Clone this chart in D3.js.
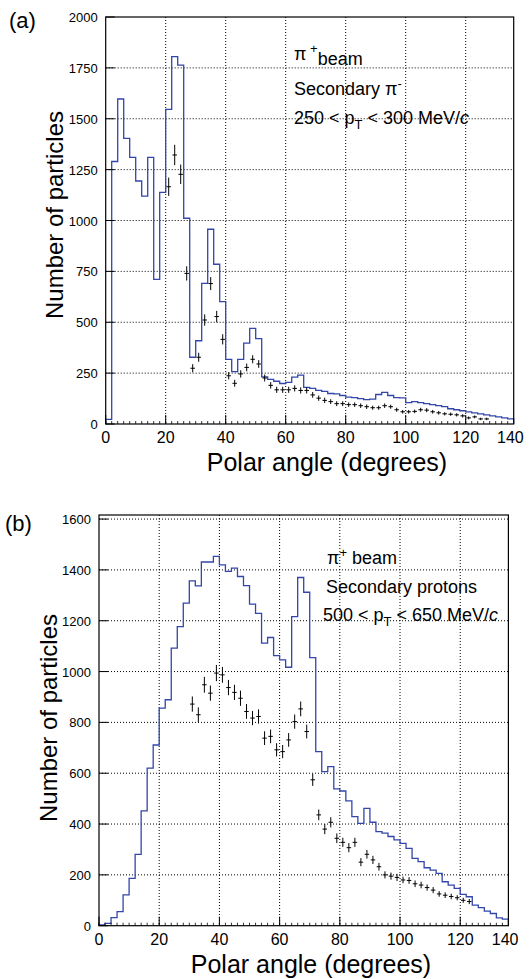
<!DOCTYPE html>
<html>
<head>
<meta charset="utf-8">
<script src="https://cdn.jsdelivr.net/npm/d3@7"></script>
<style>
  body { margin: 0; background: #fff; }
  svg text { font-family: "Liberation Sans", Arial, Helvetica, sans-serif; fill: #000; }
</style>
</head>
<body>
<svg id="chart" width="532" height="979"></svg>
<script>
// lower edges of the 2 degree bins
let binEdges = [0, 2, 4, 6, 8, 10, 12, 14, 16, 18, 20, 22, 24, 26, 28, 30, 32, 34, 36, 38,
    40, 42, 44, 46, 48, 50, 52, 54, 56, 58, 60, 62, 64, 66, 68, 70, 72, 74, 76, 78,
    80, 82, 84, 86, 88, 90, 92, 94, 96, 98, 100, 102, 104, 106, 108, 110, 112, 114, 116, 118,
    120, 122, 124, 126, 128, 130, 132, 134];
let binWidth = 2;

// (a) simulated pi- (blue histogram)
let simA = [23, 1290, 1597, 1404, 1310, 1194, 1120, 1310, 711, 1138,
    1546, 1805, 1764, 1011, 328, 409, 691, 957, 785, 601,
    318, 257, 318, 397, 470, 420, 232, 219, 210, 199,
    205, 230, 240, 180, 175, 165, 160, 150, 148, 140,
    132, 130, 125, 120, 122, 145, 155, 140, 130, 128,
    105, 110, 105, 100, 95, 90, 85, 75, 70, 65,
    60, 55, 50, 45, 40, 35, 30, 25];

// (a) measured pi- (crosses)
let angleA = [21, 23, 25, 27, 29, 31, 33, 35, 37, 39, 41, 43, 45, 47, 49, 51, 53, 55, 57, 59,
    61, 63, 65, 67, 69, 71, 73, 75, 77, 79, 81, 83, 85, 87, 89, 91, 93, 95, 97, 99,
    101, 103, 105, 107, 109, 111, 113, 115, 117, 119, 121, 123, 125, 127];
let countA = [1166, 1322, 1227, 740, 274, 328, 511, 690, 528, 416, 237, 200, 246, 278, 318, 295, 226, 190, 168, 168,
    168, 175, 165, 165, 143, 127, 116, 110, 100, 100, 95, 95, 90, 85, 80, 80, 90, 85, 70, 60,
    60, 62, 70, 68, 60, 55, 50, 48, 45, 40, 30, 35, 25, 25];
let errA = [45, 50, 48, 35, 20, 22, 28, 32, 28, 25, 18, 17, 18, 19, 20, 19, 17, 16, 15, 15,
    15, 15, 15, 15, 14, 13, 13, 12, 12, 12, 11, 11, 11, 11, 10, 10, 11, 10, 10, 9,
    9, 9, 10, 10, 9, 9, 8, 8, 8, 8, 7, 7, 6, 6];

// (b) simulated protons (blue histogram)
let simB = [3, 9, 32, 55, 121, 186, 281, 452, 620, 711,
    856, 889, 1092, 1177, 1269, 1357, 1337, 1431, 1431, 1453,
    1420, 1394, 1407, 1374, 1338, 1265, 1229, 1112, 1134, 1063,
    1046, 1017, 1216, 1370, 1312, 1055, 685, 606, 626, 538,
    530, 491, 429, 403, 462, 407, 370, 364, 351, 338,
    324, 304, 265, 252, 228, 219, 206, 173, 160, 147,
    123, 114, 81, 71, 57, 48, 31, 26];

// (b) measured protons (crosses)
let angleB = [31, 33, 35, 37, 39, 41, 43, 45, 47, 49, 51, 53, 55, 57, 59, 61, 63, 65, 67, 69,
    71, 73, 75, 77, 79, 81, 83, 85, 87, 89, 91, 93, 95, 97, 99, 101, 103, 105, 107, 109,
    111, 113, 115, 117, 119, 121, 123];
let countB = [872, 830, 948, 915, 994, 987, 937, 918, 895, 843, 817, 823, 738, 745, 692, 685, 731, 803, 853, 764,
    574, 436, 380, 407, 344, 328, 307, 328, 250, 281, 259, 232, 200, 195, 190, 180, 178, 165, 160, 150,
    140, 125, 120, 115, 110, 100, 95];
let errB = [30, 29, 31, 30, 32, 31, 30, 30, 30, 29, 28, 28, 27, 27, 26, 26, 27, 28, 29, 27,
    24, 21, 20, 20, 19, 18, 18, 18, 16, 17, 16, 15, 14, 14, 14, 13, 13, 13, 13, 12,
    12, 11, 11, 11, 10, 10, 10];

let xTicks = [0, 20, 40, 60, 80, 100, 120, 140];
let yTicksA = [0, 250, 500, 750, 1000, 1250, 1500, 1750, 2000];
let yTicksB = [0, 200, 400, 600, 800, 1000, 1200, 1400, 1600];

let svg = d3.select("#chart");
let blue = "#3346aa";

function drawPanel(p) {
    let x = d3.scaleLinear().domain([0, 136]).range([p.left, p.right]);
    let y = d3.scaleLinear().domain([0, p.yMax]).range([p.bottom, p.top]);
    let g = svg.append("g");

    // grid
    g.selectAll(".gx").data(xTicks.filter(t => t > 0 && t < 136)).enter().append("line")
        .attr("x1", d => x(d)).attr("x2", d => x(d))
        .attr("y1", p.top).attr("y2", p.bottom)
        .attr("stroke", "#000").attr("stroke-width", 1).attr("stroke-dasharray", "1,2");
    g.selectAll(".gy").data(p.yTicks.filter(t => t > 0 && y(t) > p.top + 2)).enter().append("line")
        .attr("x1", p.left).attr("x2", p.right)
        .attr("y1", d => y(d)).attr("y2", d => y(d))
        .attr("stroke", "#000").attr("stroke-width", 1).attr("stroke-dasharray", "1,2");

    // histogram
    let pts = [[0, 0]];
    p.sim.forEach((v, i) => pts.push([binEdges[i], v]));
    pts.push([binEdges[binEdges.length - 1] + binWidth, p.sim[p.sim.length - 1]]);
    pts.push([binEdges[binEdges.length - 1] + binWidth, 0]);
    let line = d3.line().x(d => x(d[0])).y(d => y(d[1])).curve(d3.curveStepAfter);
    g.append("path").datum(pts).attr("d", line)
        .attr("fill", "none").attr("stroke", blue).attr("stroke-width", 1.3);

    // crosses
    let cr = g.selectAll(".cr").data(p.angle).enter().append("g");
    cr.append("line")
        .attr("x1", d => x(d - 0.75)).attr("x2", d => x(d + 0.75))
        .attr("y1", (d, i) => y(p.count[i])).attr("y2", (d, i) => y(p.count[i]))
        .attr("stroke", "#000").attr("stroke-width", 1);
    cr.append("line")
        .attr("x1", d => x(d)).attr("x2", d => x(d))
        .attr("y1", (d, i) => y(p.count[i] - p.err[i])).attr("y2", (d, i) => y(p.count[i] + p.err[i]))
        .attr("stroke", "#000").attr("stroke-width", 1);

    // ticks
    g.selectAll(".tx").data(xTicks.filter(t => t < 136)).enter().append("line")
        .attr("x1", d => x(d)).attr("x2", d => x(d))
        .attr("y1", p.bottom).attr("y2", p.bottom - 9)
        .attr("stroke", "#000");
    g.selectAll(".mx").data(binEdges).enter().append("line")
        .attr("x1", d => x(d)).attr("x2", d => x(d))
        .attr("y1", p.bottom).attr("y2", p.bottom - 3)
        .attr("stroke", "#000").attr("stroke-width", 0.8);
    g.selectAll(".ty").data(p.yTicks).enter().append("line")
        .attr("x1", p.left).attr("x2", p.left + 9)
        .attr("y1", d => y(d)).attr("y2", d => y(d))
        .attr("stroke", "#000");

    // frame
    g.append("rect").attr("x", p.left).attr("y", p.top)
        .attr("width", p.right - p.left).attr("height", p.bottom - p.top)
        .attr("fill", "none").attr("stroke", "#000").attr("stroke-width", 1.2);

    // tick labels
    g.selectAll(".lx").data(xTicks).enter().append("text")
        .attr("x", d => x(d)).attr("y", p.bottom + 19)
        .attr("text-anchor", (d, i) => i === xTicks.length - 1 ? "end" : "middle")
        .attr("dx", (d, i) => i === xTicks.length - 1 ? -2 : 0)
        .style("font-size", "16px").text(d => d);
    g.selectAll(".ly").data(p.yTicks).enter().append("text")
        .attr("x", p.left - 8).attr("y", d => y(d) + 5)
        .attr("text-anchor", "end").style("font-size", "13px").text(d => d);

    // axis titles
    g.append("text").attr("x", p.xTitleX).attr("y", p.bottom + 47)
        .attr("text-anchor", "middle").style("font-size", "25px").text("Polar angle (degrees)");
    g.append("text").attr("transform", `translate(${p.yTitleX},${p.yTitleY}) rotate(-90)`)
        .attr("text-anchor", "middle").style("font-size", "24px").text("Number of particles");
    g.append("text").attr("x", p.tagX).attr("y", p.tagY)
        .style("font-size", "22px").text(p.tag);

    return { g: g, x: x, y: y };
}

let a = drawPanel({
    left: 105.7, right: 513.7, top: 17, bottom: 424, yMax: 2000, yTicks: yTicksA,
    sim: simA, angle: angleA, count: countA, err: errA,
    xTitleX: 327, yTitleX: 63, yTitleY: 215, tag: "(a)", tagX: 9, tagY: 28
});
let b = drawPanel({
    left: 99, right: 508.4, top: 515, bottom: 925.7, yMax: 1616, yTicks: yTicksB,
    sim: simB, angle: angleB, count: countB, err: errB,
    xTitleX: 311, yTitleX: 57, yTitleY: 718, tag: "(b)", tagX: 5, tagY: 531
});

// legend texts (a)
let ta = a.g.append("text").attr("x", 294).attr("y", 60).style("font-size", "18px");
ta.append("tspan").text("\u03c0");
ta.append("tspan").attr("dy", -7).style("font-size", "13px").text(" +");
ta.append("tspan").attr("dy", 12).text("beam");
let sa = a.g.append("text").attr("x", 294).attr("y", 95).style("font-size", "18px");
sa.append("tspan").text("Secondary \u03c0");
sa.append("tspan").attr("dy", -7).style("font-size", "13px").text("-");
let pa = a.g.append("text").attr("x", 294).attr("y", 124).style("font-size", "18px");
pa.append("tspan").text("250 < p");
pa.append("tspan").attr("dy", 5).style("font-size", "13px").text("T");
pa.append("tspan").attr("dy", -5).text(" < 300 MeV/");
pa.append("tspan").style("font-style", "italic").text("c");

// legend texts (b)
let tb = b.g.append("text").attr("x", 327).attr("y", 564).style("font-size", "18px");
tb.append("tspan").text("\u03c0");
tb.append("tspan").attr("dy", -7).style("font-size", "13px").text("+");
tb.append("tspan").attr("dy", 7).text(" beam");
b.g.append("text").attr("x", 326).attr("y", 593).style("font-size", "18px").text("Secondary protons");
let pb = b.g.append("text").attr("x", 323).attr("y", 621).style("font-size", "18px");
pb.append("tspan").text("500 < p");
pb.append("tspan").attr("dy", 5).style("font-size", "13px").text("T");
pb.append("tspan").attr("dy", -5).text(" < 650 MeV/");
pb.append("tspan").style("font-style", "italic").text("c");
</script>
</body>
</html>
